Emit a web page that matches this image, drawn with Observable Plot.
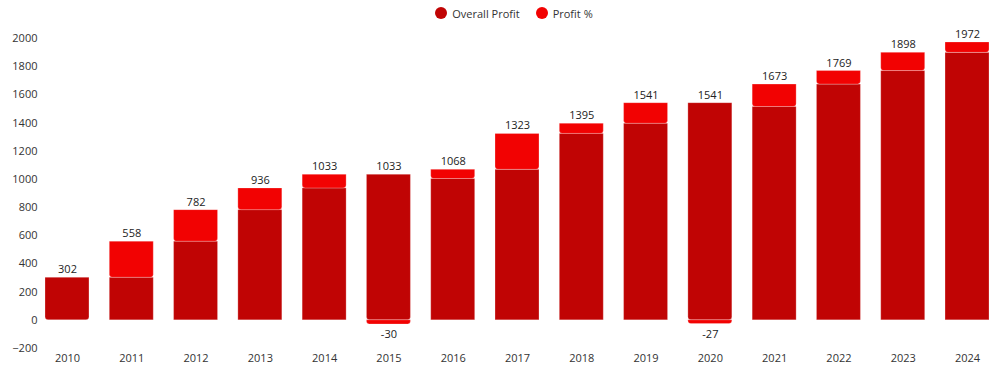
<!DOCTYPE html>
<html>
<head>
<meta charset="utf-8">
<script src="https://cdn.jsdelivr.net/npm/d3@7"></script>
<script src="https://cdn.jsdelivr.net/npm/@observablehq/plot@0.6"></script>
<style>
  html, body { margin: 0; padding: 0; background: #fff; }
  body { width: 1000px; height: 370px; overflow: hidden; font-family: "Open Sans", sans-serif; }
  #legend { height: 26px; display: flex; justify-content: center; align-items: center; gap: 16px; padding-left: 28px; box-sizing: border-box; font-size: 11px; color: #333; }
  .item { display: flex; align-items: center; gap: 5px; }
  .dot { width: 12px; height: 12px; border-radius: 50%; display: inline-block; }
  svg { display: block; }
</style>
</head>
<body>
<div id="legend"></div>
<div id="chart"></div>
<script>
const years = ["2010","2011","2012","2013","2014","2015","2016","2017","2018","2019","2020","2021","2022","2023","2024"];
const overallProfit = [302, 302, 558, 782, 936, 1033, 1003, 1068, 1323, 1395, 1541, 1514, 1673, 1769, 1898];
const profitPct = [0, 256, 224, 154, 97, -30, 65, 255, 72, 146, -27, 159, 96, 129, 74];
const seriesNames = ["Overall Profit", "Profit %"];
const colors = ["#c00404", "#f20202"];
const yTicks = [-200, 0, 200, 400, 600, 800, 1000, 1200, 1400, 1600, 1800, 2000];

const data = years.map((year, i) => ({
  year,
  dark: overallProfit[i],
  delta: profitPct[i],
  top: overallProfit[i] + Math.max(profitPct[i], 0)
}));

const legend = document.getElementById("legend");
seriesNames.forEach((n, i) => {
  const it = document.createElement("span");
  it.className = "item";
  it.innerHTML = `<span class="dot" style="background:${colors[i]}"></span><span>${n}</span>`;
  legend.appendChild(it);
});

const common = { x: "year", stroke: "#ffffff", strokeOpacity: 0.25, strokeWidth: 1 };

const chart = Plot.plot({
  width: 1000,
  height: 344,
  marginTop: 12,
  marginBottom: 22,
  marginLeft: 45,
  marginRight: 11,
  style: { fontFamily: "Open Sans, sans-serif", fontSize: "11px", color: "#333" },
  x: { domain: years, paddingInner: 0.316, paddingOuter: 0, round: false, label: null, tickSize: 0, tickPadding: 6 },
  y: { domain: [-200, 2000], ticks: yTicks, tickFormat: d3.format("d"), label: null, tickSize: 0, tickPadding: 8 },
  marks: [
    Plot.rectY(data.filter(d => d.delta > 0), { ...common, x: "year", y1: 0, y2: "dark", fill: colors[0] }),
    Plot.rectY(data.filter(d => d.delta <= 0), { ...common, x: "year", y1: 0, y2: "dark", fill: colors[0], rx1y1: 3, rx2y1: 3 }),
    Plot.rectY(data.filter(d => d.delta > 0), { ...common, x: "year", y1: "dark", y2: "top", fill: colors[1], rx1y1: 3, rx2y1: 3 }),
    Plot.rectY(data.filter(d => d.delta < 0), { ...common, x: "year", y1: 0, y2: "delta", fill: colors[1], rx1y2: 3, rx2y2: 3 }),
    Plot.text(data, { x: "year", y: "top", text: d => String(d.top), dy: -8, fill: "#222", fontSize: 11 }),
    Plot.text(data.filter(d => d.delta < 0), { x: "year", y: "delta", text: d => String(d.delta), dy: 10, fill: "#222", fontSize: 11 })
  ]
});
document.getElementById("chart").appendChild(chart);
</script>
</body>
</html>
